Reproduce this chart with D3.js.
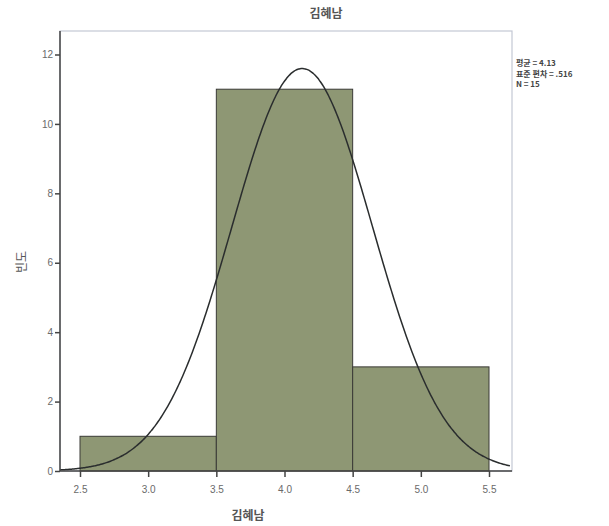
<!DOCTYPE html>
<html><head><meta charset="utf-8">
<script src="https://cdn.jsdelivr.net/npm/d3@7"></script>
<style>
body{margin:0;background:#fff;}
text{font-family:"Noto Sans CJK KR","Noto Sans",sans-serif;}
</style></head>
<body><svg id="c" width="609" height="526"></svg>
<script>
const binStarts = [2.5, 3.5, 4.5];
const binEnds = [3.5, 4.5, 5.5];
const counts = [1, 11, 3];
const xTicks = [2.5, 3.0, 3.5, 4.0, 4.5, 5.0, 5.5];
const yTicks = [0, 2, 4, 6, 8, 10, 12];
const mean = 4.13, sd = 0.516, N = 15, binWidth = 1;
const legendLines = ["평균 = 4.13", "표준 편차 = .516", "N = 15"];
const titleText = "김혜남", xLabel = "김혜남", yLabel = "빈도";

(function(){
const svg = d3.select("#c");
const pL = 60, pR = 512, pT = 31, pB = 471;
const x = d3.scaleLinear().domain([2.5, 5.5]).range([80, 489]);
const y = d3.scaleLinear().domain([0, 12]).range([pB, 54.5]);

// frame
svg.append("rect").attr("x", pL).attr("y", pT).attr("width", pR-pL).attr("height", pB-pT)
  .attr("fill", "none").attr("stroke", "#c4c8d4").attr("stroke-width", 1.2);

// bars
svg.selectAll("rect.bar").data(counts).enter().append("rect").attr("class","bar")
  .attr("x", (d,i)=>x(binStarts[i])).attr("width",(d,i)=>x(binEnds[i])-x(binStarts[i]))
  .attr("y", d=>y(d)).attr("height", d=>y(0)-y(d))
  .attr("fill", "#8e9774").attr("stroke", "#3a3a36").attr("stroke-width", 1);

// normal curve
const xs = d3.range(x.invert(pL), x.invert(pR-1)+0.001, 0.01);
const pdf = v => N*binWidth/(sd*Math.sqrt(2*Math.PI))*Math.exp(-0.5*((v-mean)/sd)**2);
svg.append("path").datum(xs)
  .attr("d", d3.line().x(v=>x(v)).y(v=>y(pdf(v))).curve(d3.curveBasis))
  .attr("fill","none").attr("stroke","#2a2d2e").attr("stroke-width",1.5);

// axes
const xa = svg.append("g").attr("transform",`translate(0,${pB})`)
  .call(d3.axisBottom(x).tickValues(xTicks).tickFormat(d3.format(".1f")).tickSize(6).tickSizeOuter(0));
xa.select(".domain").attr("d", `M${pL},0H${pR}`);
const ya = svg.append("g").attr("transform",`translate(${pL},0)`)
  .call(d3.axisLeft(y).tickValues(yTicks).tickFormat(d3.format("d")).tickSize(5).tickSizeOuter(0));
ya.select(".domain").attr("d", `M0,${pB}V${pT}`);
[xa, ya].forEach(g=>{
  g.selectAll(".domain").attr("stroke","#444").attr("stroke-width",1.5);
  g.selectAll(".tick line").attr("stroke","#444").attr("stroke-width",1.5);
  g.selectAll("text").attr("fill","#6a6a6a").style("font-size","10px").style("font-family","Arial, 'Liberation Sans', sans-serif");
});
xa.selectAll("text").attr("dy","1.3em");
ya.selectAll("text").attr("dx","0.1em");

// title & labels
svg.append("text").attr("x", 326).attr("y", 18).attr("text-anchor","middle")
  .attr("font-size","12px").attr("font-weight","bold").attr("fill","#555").text(titleText);
svg.append("text").attr("x", 248).attr("y", 520).attr("text-anchor","middle")
  .attr("font-size","12px").attr("font-weight","bold").attr("fill","#555").text(xLabel);
svg.append("text").attr("transform","translate(26,262) rotate(-90)").attr("text-anchor","middle")
  .attr("font-size","12px").attr("fill","#555").text(yLabel);

// legend
svg.selectAll("text.leg").data(legendLines).enter().append("text").attr("class","leg")
  .attr("x", 516).attr("y",(d,i)=>66+i*10.5).attr("font-size","8px").attr("font-weight","bold")
  .attr("fill","#444").text(d=>d);
})();
</script></body></html>
